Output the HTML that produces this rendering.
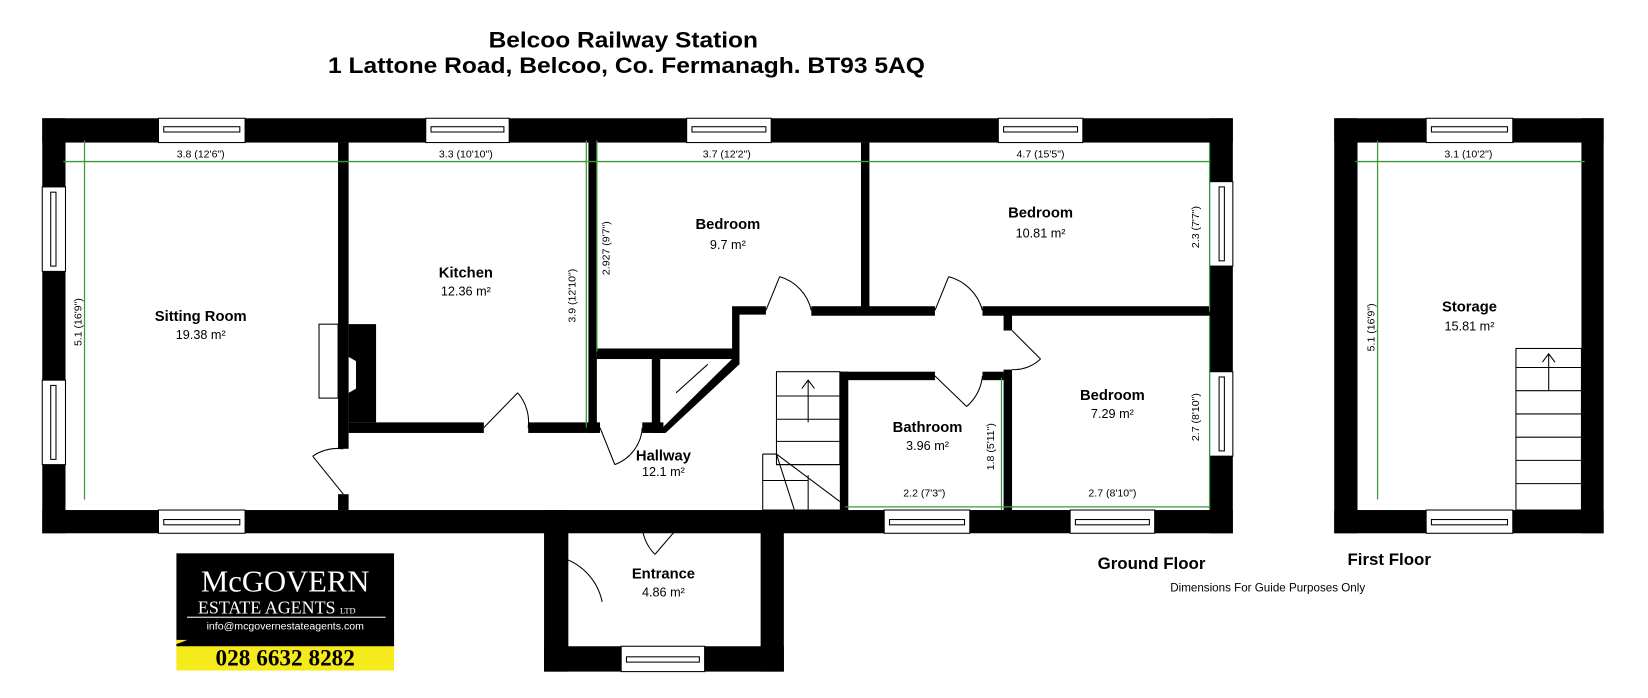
<!DOCTYPE html>
<html><head><meta charset="utf-8"><style>
html,body{margin:0;padding:0;background:#fff;}
svg{display:block;}
text{font-family:"Liberation Sans",Arial,sans-serif;}
text.serif{font-family:"Liberation Serif","DejaVu Serif",serif;}
</style></head><body>
<svg width="1648" height="698" viewBox="0 0 1560 661" preserveAspectRatio="none" xmlns="http://www.w3.org/2000/svg">
<rect width="1560" height="661" fill="#fff"/>
<g text-anchor="middle" font-weight="bold" font-size="21">
<text x="590" y="45" textLength="255" lengthAdjust="spacingAndGlyphs">Belcoo Railway Station</text>
<text x="593" y="69" textLength="565" lengthAdjust="spacingAndGlyphs">1 Lattone Road, Belcoo, Co. Fermanagh. BT93 5AQ</text>
</g>
<g fill="#000">
<rect x="40" y="112" width="1127" height="23"/>
<rect x="40" y="112" width="22" height="393"/>
<rect x="1145" y="112" width="22" height="393"/>
<rect x="40" y="483" width="1127" height="22"/>
<rect x="515" y="483" width="23" height="153"/>
<rect x="720" y="483" width="22" height="153"/>
<rect x="515" y="612" width="227" height="24"/>
<rect x="320" y="135" width="10" height="290"/>
<rect x="320" y="468" width="10" height="15"/>
<path d="M330 307 H356 V400 H330 V372 L337 368 V342 L330 338 Z"/>
<rect x="330" y="400" width="128" height="10"/>
<rect x="500" y="400" width="68" height="10"/>
<rect x="557" y="135" width="8" height="275"/>
<rect x="565" y="330" width="135" height="10"/>
<rect x="617" y="340" width="8" height="70"/>
<rect x="608" y="400" width="20" height="10"/>
<path d="M693 290 H725 V298 H700 V345 L630 410 H622 L693 340 Z"/>
<rect x="768" y="290" width="117" height="9"/>
<rect x="930" y="290" width="215" height="9"/>
<rect x="815" y="135" width="8" height="160"/>
<rect x="950" y="298" width="8" height="15"/>
<rect x="950" y="350" width="8" height="133"/>
<rect x="795" y="352" width="90" height="8"/>
<rect x="930" y="352" width="20" height="8"/>
<rect x="795" y="352" width="8" height="131"/>
<rect x="1263" y="112" width="255" height="23"/>
<rect x="1263" y="112" width="22" height="393"/>
<rect x="1497" y="112" width="21" height="393"/>
<rect x="1263" y="483" width="255" height="22"/>
</g>
<g fill="#fff" stroke="#000" stroke-width="1">
<rect x="150" y="112" width="82" height="23"/><rect x="403" y="112" width="79" height="23"/>
<rect x="650" y="112" width="80" height="23"/><rect x="945" y="112" width="80" height="23"/>
<rect x="150" y="483" width="82" height="22"/><rect x="837" y="483" width="81" height="22"/>
<rect x="1013" y="483" width="80" height="22"/><rect x="588" y="612" width="79" height="24"/>
<rect x="1350" y="112" width="82" height="23"/><rect x="1350" y="483" width="82" height="22"/>
<rect x="40" y="177" width="22" height="80"/><rect x="40" y="360" width="22" height="80"/>
<rect x="1145" y="172" width="22" height="80"/><rect x="1145" y="352" width="22" height="80"/>
<rect x="155" y="120" width="72" height="5"/><rect x="408" y="120" width="69" height="5"/>
<rect x="655" y="120" width="70" height="5"/><rect x="950" y="120" width="70" height="5"/>
<rect x="155" y="492" width="72" height="5"/><rect x="842" y="492" width="71" height="5"/>
<rect x="1018" y="492" width="70" height="5"/><rect x="593" y="622" width="69" height="5"/>
<rect x="1355" y="120" width="72" height="5"/><rect x="1355" y="492" width="72" height="5"/>
<rect x="48" y="182" width="5" height="70"/><rect x="48" y="365" width="5" height="70"/>
<rect x="1154" y="177" width="5" height="70"/><rect x="1154" y="357" width="5" height="70"/>
<rect x="302" y="307" width="18" height="70"/>
</g>
<g fill="none" stroke="#000" stroke-width="1">
<path d="M458 405 L490 372 M500 405 A42 42 0 0 0 490 372"/>
<path d="M725 294 L738 262 M768 294 A43 43 0 0 0 738 262"/>
<path d="M885 294 L898 262 M930 294 A45 45 0 0 0 898 262"/>
<path d="M325 468 L296 432 M325 425 A43 43 0 0 0 296 432"/>
<path d="M958 313 L985 340 M958 350 A37 37 0 0 0 985 340"/>
<path d="M885 356 L915 385 M930 356 A45 45 0 0 1 915 385"/>
<path d="M568 405 L582 440 M608 405 A40 40 0 0 1 582 440"/>
<path d="M650 490 L620 525 M608 490 A42 42 0 0 0 620 525"/>
<path d="M527 527 A55 55 0 0 1 570 570 M527 530 L527 583"/>
<path d="M640 372 L670 345"/>
</g>
<g fill="none" stroke="#000" stroke-width="1">
<rect x="735" y="352" width="60" height="88"/>
<path d="M735 375 H795 M735 397 H795 M735 418 H795 M735 440 H795 M722 430 V483 H795 M722 430 H735 M722 455 H765 M765 450 V483 M735 430 L795 475 M735 430 L752 483 M765 360 V400 M759 368 L765 360 L771 368"/>
<rect x="1435" y="330" width="62" height="153"/>
<path d="M1435 348 H1497 M1435 370 H1497 M1435 392 H1497 M1435 414 H1497 M1435 436 H1497 M1435 458 H1497 M1466 335 V370 M1460 343 L1466 335 L1472 343"/>
</g>
<g stroke="#3a9a3a" stroke-width="1.2" fill="none">
<path d="M60 153 H1145 M80 133 V473 M555 133 V405 M565 133 V333 M1145 135 V295 M1145 300 V483 M948 358 V483 M800 480 H1145 M1283 153 H1500 M1304 133 V473"/>
</g>
<g font-size="10" text-anchor="middle" fill="#000">
<text x="190" y="149">3.8 (12'6")</text><text x="441" y="149">3.3 (10'10")</text>
<text x="688" y="149">3.7 (12'2")</text><text x="985" y="149">4.7 (15'5")</text>
<text x="1390" y="149">3.1 (10'2")</text>
<text x="875" y="470">2.2 (7'3")</text><text x="1053" y="470">2.7 (8'10")</text>
<text transform="translate(77,305) rotate(-90)">5.1 (16'9")</text>
<text transform="translate(545,280) rotate(-90)">3.9 (12'10")</text>
<text transform="translate(577,235) rotate(-90)">2.927 (9'7")</text>
<text transform="translate(1135,215) rotate(-90)">2.3 (7'7")</text>
<text transform="translate(1135,395) rotate(-90)">2.7 (8'10")</text>
<text transform="translate(941,423) rotate(-90)">1.8 (5'11")</text>
<text transform="translate(1301,310) rotate(-90)">5.1 (16'9")</text>
</g>
<g text-anchor="middle" fill="#000">
<g font-size="14" font-weight="bold">
<text x="190" y="304">Sitting Room</text><text x="441" y="263">Kitchen</text>
<text x="689" y="217">Bedroom</text><text x="985" y="206">Bedroom</text>
<text x="1053" y="379">Bedroom</text><text x="878" y="409">Bathroom</text>
<text x="628" y="436">Hallway</text><text x="628" y="548">Entrance</text>
<text x="1391" y="295">Storage</text>
<text x="1090" y="539" font-size="16">Ground Floor</text>
<text x="1315" y="535" font-size="16">First Floor</text>
</g>
<g font-size="12">
<text x="190" y="321">19.38 m²</text><text x="441" y="280">12.36 m²</text>
<text x="689" y="236">9.7 m²</text><text x="985" y="225">10.81 m²</text>
<text x="1053" y="396">7.29 m²</text><text x="878" y="426">3.96 m²</text>
<text x="628" y="451">12.1 m²</text><text x="628" y="565">4.86 m²</text>
<text x="1391" y="313">15.81 m²</text>
<text x="1200" y="560" font-size="11">Dimensions For Guide Purposes Only</text>
</g>
</g>
<rect x="167" y="524" width="206" height="88" fill="#000"/>
<rect x="167" y="606" width="206" height="29" fill="#f5ea1a"/>
<path d="M167 610 L180 605 L200 603 L215 606 L230 600 L250 604 L270 603 L290 597 L310 603 L330 600 L345 595 L360 600 L373 598 V612 H167 Z" fill="#000"/>
<g text-anchor="middle">
<text class="serif" x="270" y="560" fill="#fff" font-size="29">McGOVERN</text>
<text class="serif" x="262" y="581" fill="#fff" font-size="17">ESTATE AGENTS <tspan font-size="8">LTD</tspan></text>
<rect x="177" y="584" width="188" height="1" fill="#fff"/>
<text x="270" y="596" fill="#fff" font-size="10">info@mcgovernestateagents.com</text>
<text class="serif" x="270" y="630" fill="#000" font-weight="bold" font-size="22">028 6632 8282</text>
</g>
</svg>
</body></html>
